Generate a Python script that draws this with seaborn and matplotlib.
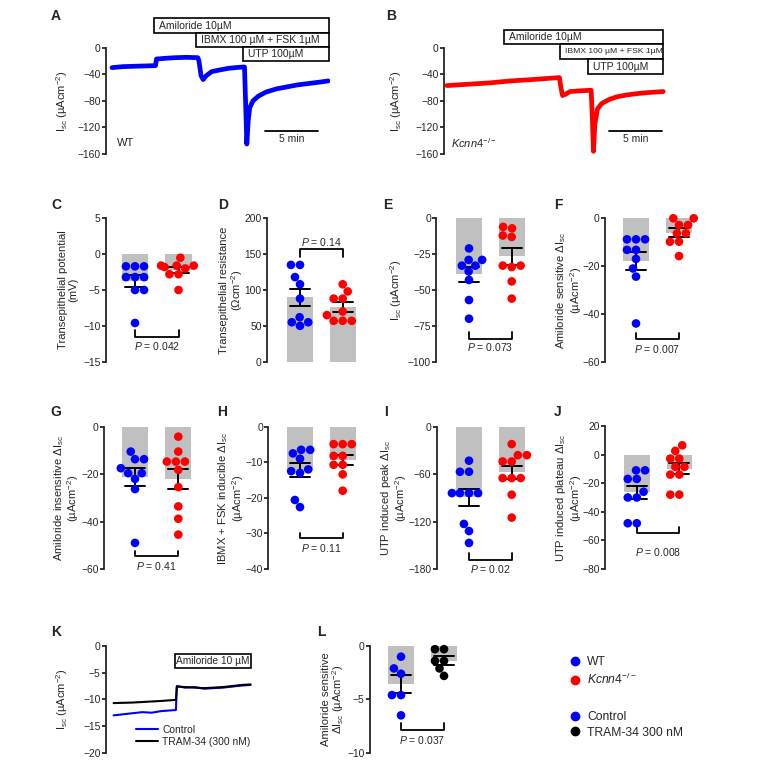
import matplotlib
matplotlib.use('Agg')
import matplotlib.pyplot as plt
from matplotlib.patches import Rectangle
from matplotlib.lines import Line2D
import numpy as np
import pandas as pd
import seaborn as sns

sns.set_style('ticks')
plt.rcParams['font.family'] = ['Liberation Sans', 'DejaVu Sans']
plt.rcParams['mathtext.fontset'] = 'custom'
plt.rcParams['mathtext.rm'] = 'Liberation Sans'
plt.rcParams['mathtext.it'] = 'Liberation Sans:italic'
plt.rcParams['mathtext.bf'] = 'Liberation Sans:bold'

W, H = 768, 770
BLUE, RED, BLACK, GREY = '#0000ff', '#ff0000', '#000000', '#c0c0c0'

# ---- traces (min, uA/cm2) ----
a_time = [0, 1, 2, 3, 4.1, 4.2, 5, 6, 7, 8.1, 8.2, 8.4, 8.6, 8.9, 9.4, 10, 11, 12, 12.5,
          12.6, 12.72, 12.85, 13.0, 13.3, 13.8, 14.5, 15.5, 16.5, 17.5, 18.5, 19.5, 20.4]
a_isc = [-30, -28.5, -28, -27.5, -27, -17, -16, -15, -14.5, -15, -20, -42, -48, -42, -36, -34, -31, -29.5, -29,
         -80, -145, -110, -90, -80, -73, -67, -62, -59, -56, -54, -52, -50]

b_time = [0, 2, 4, 6, 8, 10.6, 10.75, 10.9, 11.2, 11.6, 12.5, 13.6, 13.7, 13.82, 13.95, 14.2,
          14.6, 15.3, 16, 17, 18, 19, 20.4]
b_isc = [-57, -55, -53, -50, -48, -45, -60, -72, -70, -66, -65, -64, -100, -156, -115, -92,
         -84, -78, -74, -71, -69, -67.5, -66]

k_time = [0, 1, 2, 3, 4, 5, 6.55, 6.65, 7.5, 8.5, 9.5, 10.5, 11.5, 12.5, 13.5, 14.4]
k_control = [-13, -12.8, -12.6, -12.4, -12.5, -12.2, -12, -7.5, -7.8, -7.7, -8, -7.9, -7.8, -7.6, -7.4, -7.3]
k_tram = [-10.7, -10.65, -10.6, -10.5, -10.4, -10.3, -10.1, -7.6, -7.7, -7.8, -7.9, -7.8, -7.7, -7.5, -7.3, -7.2]

# ---- dot plots (WT, Kcnn4-/-) ----
c_wt = [-1.7, -1.7, -1.7, -3.2, -3.2, -3.2, -5.0, -5.0, -9.6]
c_ko = [-0.5, -1.6, -1.6, -1.6, -1.8, -2.0, -2.8, -2.8, -5.0]
d_wt = [135, 135, 118, 108, 88, 62, 55, 55, 50]
d_ko = [108, 98, 88, 88, 70, 65, 57, 57, 57]
e_wt = [-21, -29, -29, -33, -33, -37, -43, -57, -70]
e_ko = [-6, -7, -12, -13, -33, -33, -34, -44, -56]
f_wt = [-8.8, -8.8, -8.8, -13.2, -13.2, -17, -21, -24.4, -44]
f_ko = [0, 0, -2.8, -2.8, -6.3, -6.3, -9.8, -9.8, -15.8]
g_wt = [-10.5, -13.7, -13.7, -17.5, -19.6, -19.6, -22, -26.3, -49]
g_ko = [-4.2, -10.5, -14.7, -14.7, -14.7, -18.2, -25.5, -33.6, -38.8, -45.5]
h_wt = [-6.5, -6.5, -7.5, -9, -12, -12.5, -13, -20.6, -22.6]
h_ko = [-4.9, -4.9, -4.9, -8.2, -8.2, -10.7, -10.7, -13.4, -18]
i_wt = [-43, -57, -57, -84, -84, -84, -84, -123, -132, -147]
i_ko = [-22, -36, -36, -44, -44, -65, -65, -65, -86, -115]
j_wt = [-11, -11, -17, -17, -26, -30, -30, -48, -48]
j_ko = [6.5, 2.6, -2.8, -2.8, -8.6, -8.6, -14, -14, -28, -28]
l_ctrl = [-1.0, -2.1, -2.6, -4.6, -4.6, -6.5]
l_tram = [-0.3, -0.3, -1.4, -1.4, -2.1, -2.8]

fig = plt.figure(figsize=(W / 100, H / 100), dpi=100)

ISC = r'I$_{\mathrm{sc}}$ (µAcm$^{-2}$)'
KO = r'$\mathit{Kcnn4}^{-/-}$'


def px_axes(left, top, right, bottom):
    return fig.add_axes([left / W, 1 - bottom / H, (right - left) / W, (bottom - top) / H])


def style(ax, ticks):
    sns.despine(ax=ax, bottom=True)
    ax.set_xticks([])
    ax.set_yticks(ticks)
    ax.tick_params(axis='y', direction='out', length=3.0, width=1.3, labelsize=7.4, pad=0.8)
    ax.spines['left'].set_linewidth(1.3)
    ax.set_xlabel('')
    ax.set_ylabel('')
    ax.patch.set_alpha(0)


def fig_text(x, y, s, **kw):
    return fig.text(x / W, 1 - y / H, s, **kw)


def ylab(x, y, s, size=8.1):
    fig_text(x, y, s, rotation=90, ha='center', va='center', fontsize=size, linespacing=0.98)


def letter(x, y, s):
    fig_text(x, y, s, ha='center', va='center', fontsize=10, weight='bold')


def bar_dots(left, top, right, bottom, centers, wt, ko, colors, ylim, ticks, bracket, ptext):
    ax = px_axes(left, top, right, bottom)
    df = pd.DataFrame({'group': ['a'] * len(wt) + ['b'] * len(ko), 'value': list(wt) + list(ko)})
    sns.barplot(data=df, x='group', y='value', order=['a', 'b'], color=GREY, saturation=1, width=0.6,
                errorbar='se', capsize=0.47, err_kws={'color': 'k', 'linewidth': 1.4}, linewidth=0, ax=ax)
    sns.swarmplot(data=df, x='group', y='value', order=['a', 'b'], hue='group', hue_order=['a', 'b'],
                  palette=colors, size=6.2, linewidth=0, legend=False, ax=ax)
    for coll in ax.collections:
        coll.set_clip_on(False)
    unit = centers[1] - centers[0]
    ax.set_xlim(-(centers[0] - left) / unit, (right - centers[0]) / unit)
    ax.set_ylim(ylim)
    style(ax, ticks)
    y_bar, y_tick, y_text = bracket
    ax.plot([0, 0, 1, 1], [y_tick, y_bar, y_bar, y_tick], color='k', lw=1.3, clip_on=False)
    ax.text(0.5, y_text, ptext, ha='center', va='center', fontsize=7.5)
    return ax


def boxes(ax, items, x_end):
    for x0, y0, y1, label, fs in items:
        ax.add_patch(Rectangle((x0, y1), x_end - x0, y0 - y1, facecolor='white', edgecolor='k',
                               lw=1.2, clip_on=False, zorder=3))
        ax.text(x0 + 0.45, (y0 + y1) / 2, label, ha='left', va='center', fontsize=fs, zorder=4, clip_on=False)


# ---- A ----
ax = px_axes(106, 47.7, 330, 154)
sns.lineplot(x=a_time, y=a_isc, color=BLUE, linewidth=3.4, sort=False, estimator=None, ax=ax)
ax.set_xlim(-0.57, 20.57)
ax.set_ylim(-160, 0)
style(ax, [0, -40, -80, -120, -160])
boxes(ax, [(4.0, 44.7, 22.1, 'Amiloride 10µM', 7.5),
           (7.9, 22.1, 1.0, 'IBMX 100 µM + FSK 1µM', 7.5),
           (12.4, 1.0, -20, 'UTP 100µM', 7.5)], 20.5)
ax.plot([14.43, 19.43], [-125.4, -125.4], color='k', lw=1.3)
ax.text(16.93, -137, '5 min', ha='center', va='center', fontsize=7.5)
ax.text(0.45, -143.5, 'WT', ha='left', va='center', fontsize=8)
letter(56, 15.5, 'A')
ylab(62, 100.8, ISC)

# ---- B ----
ax = px_axes(444, 47.7, 666, 154)
sns.lineplot(x=b_time, y=b_isc, color=RED, linewidth=3.4, sort=False, estimator=None, ax=ax)
ax.set_xlim(-0.28, 20.66)
ax.set_ylim(-160, 0)
style(ax, [0, -40, -80, -120, -160])
boxes(ax, [(5.4, 26.7, 5.1, 'Amiloride 10µM', 7.5),
           (10.7, 5.1, -17.5, 'IBMX 100 µM + FSK 1µM', 6.1),
           (13.3, -17.5, -39.6, 'UTP 100µM', 7.5)], 20.4)
ax.plot([15.3, 20.3], [-125.4, -125.4], color='k', lw=1.3)
ax.text(17.8, -137, '5 min', ha='center', va='center', fontsize=7.5)
ax.text(0.38, -143.5, KO, ha='left', va='center', fontsize=8)
letter(390.7, 15.5, 'B')
ylab(396, 100.8, ISC)

# ---- C - F ----
bar_dots(106, 218.3, 205, 361.7, (135, 178.5), c_wt, c_ko, [BLUE, RED], (-15, 5),
         [5, 0, -5, -10, -15], (-11.5, -10.6, -12.8), r'$\mathit{P}$ = 0.042')
letter(56.7, 204.7, 'C')
ylab(68, 290, 'Transepithelial potential\n(mV)')

bar_dots(267, 218.3, 370, 361.7, (300, 342.7), d_wt, d_ko, [BLUE, RED], (0, 200),
         [200, 150, 100, 50, 0], (157.2, 146.5, 167.4), r'$\mathit{P}$ = 0.14')
letter(222.7, 204.7, 'D')
ylab(232, 290, 'Transepithelial resistance\n' + r'($\Omega$cm$^{-2}$)')

bar_dots(436.3, 218.3, 540, 361.7, (469, 511.7), e_wt, e_ko, [BLUE, RED], (-100, 0),
         [0, -25, -50, -75, -100], (-84.4, -79, -89.5), r'$\mathit{P}$ = 0.073')
letter(388, 204.7, 'E')
ylab(396, 290, ISC)

bar_dots(605, 218.3, 708, 361.7, (636, 679), f_wt, f_ko, [BLUE, RED], (-60, 0),
         [0, -20, -40, -60], (-50.6, -47.8, -54.8), r'$\mathit{P}$ = 0.007')
letter(558, 204.7, 'F')
ylab(569, 290, r'Amiloride sensitive $\Delta$I$_{\mathrm{sc}}$' + '\n' + r'(µAcm$^{-2}$)')

# ---- G - J ----
bar_dots(104, 426.7, 205, 569, (135, 178.3), g_wt, g_ko, [BLUE, RED], (-60, 0),
         [0, -20, -40, -60], (-54.7, -52.6, -58.9), r'$\mathit{P}$ = 0.41')
letter(56, 412.5, 'G')
ylab(66.5, 498, r'Amiloride insensitive $\Delta$I$_{\mathrm{sc}}$' + '\n' + r'(µAcm$^{-2}$)')

bar_dots(268.3, 426.7, 370, 569, (300, 342.7), h_wt, h_ko, [BLUE, RED], (-40, 0),
         [0, -10, -20, -30, -40], (-31.4, -29.8, -34.1), r'$\mathit{P}$ = 0.11')
letter(221.7, 412.5, 'H')
ylab(231, 498, r'IBMX + FSK inducible $\Delta$I$_{\mathrm{sc}}$' + '\n' + r'(µAcm$^{-2}$)')

bar_dots(436.7, 426.7, 540, 569, (469, 511.7), i_wt, i_ko, [BLUE, RED], (-180, 0),
         [0, -60, -120, -180], (-168.6, -160.2, -180), r'$\mathit{P}$ = 0.02')
letter(386, 412.5, 'I')
ylab(394, 498, r'UTP induced peak $\Delta$I$_{\mathrm{sc}}$' + '\n' + r'(µAcm$^{-2}$)')

bar_dots(605, 426, 708, 569, (636.8, 679.3), j_wt, j_ko, [BLUE, RED], (-80, 20),
         [20, 0, -20, -40, -60, -80], (-55, -50.8, -67.9), r'$\mathit{P}$ = 0.008')
letter(557.5, 412.5, 'J')
ylab(569, 498, r'UTP induced plateau $\Delta$I$_{\mathrm{sc}}$' + '\n' + r'(µAcm$^{-2}$)')

# ---- K ----
ax = px_axes(106, 646, 262, 752.7)
sns.lineplot(x=k_time, y=k_control, color=BLUE, linewidth=1.5, sort=False, estimator=None, ax=ax)
sns.lineplot(x=k_time, y=k_tram, color=BLACK, linewidth=1.5, sort=False, estimator=None, ax=ax)
ax.set_xlim(-0.8, 15.6)
ax.set_ylim(-20, 0)
style(ax, [0, -5, -10, -15, -20])
ax.add_patch(Rectangle((6.5, -4.2), 7.9, 2.7, facecolor='white', edgecolor='k', lw=1.2, zorder=3))
ax.text(10.45, -2.85, 'Amiloride 10 µM', ha='center', va='center', fontsize=7.3, zorder=4)
handles = [Line2D([], [], color=BLUE, lw=1.5), Line2D([], [], color=BLACK, lw=1.5)]
ax.legend(handles, ['Control', 'TRAM-34 (300 nM)'], loc='upper left', bbox_to_anchor=(136 / W, 1 - 725 / H),
          bbox_transform=fig.transFigure, frameon=False, fontsize=7.4, handlelength=2.1, handletextpad=0.45,
          labelspacing=0.2, borderpad=0, borderaxespad=0)
letter(56, 632, 'K')
ylab(62, 699, ISC)

# ---- L ----
bar_dots(370, 646, 470, 752.7, (401, 444), l_ctrl, l_tram, [BLUE, BLACK], (-10, 0),
         [0, -5, -10], (-7.9, -7.2, -8.8), r'$\mathit{P}$ = 0.037')
letter(321, 632, 'L')
ylab(333.5, 699, 'Amiloride sensitive\n' + r'$\Delta$I$_{\mathrm{sc}}$ (µAcm$^{-2}$)')

# ---- legends ----
for labels, colors, top in [(['WT', KO], [BLUE, RED], 656),
                            (['Control', 'TRAM-34 300 nM'], [BLUE, BLACK], 711)]:
    hs = [Line2D([], [], ls='', marker='o', ms=6, color=c) for c in colors]
    fig.legend(hs, labels, loc='upper left', bbox_to_anchor=(570 / W, 1 - top / H), frameon=False,
               fontsize=8.7, handlelength=0.9, handletextpad=0.5, labelspacing=0.3, borderpad=0,
               borderaxespad=0)

fig.savefig('out.png', dpi=100, facecolor='white')
